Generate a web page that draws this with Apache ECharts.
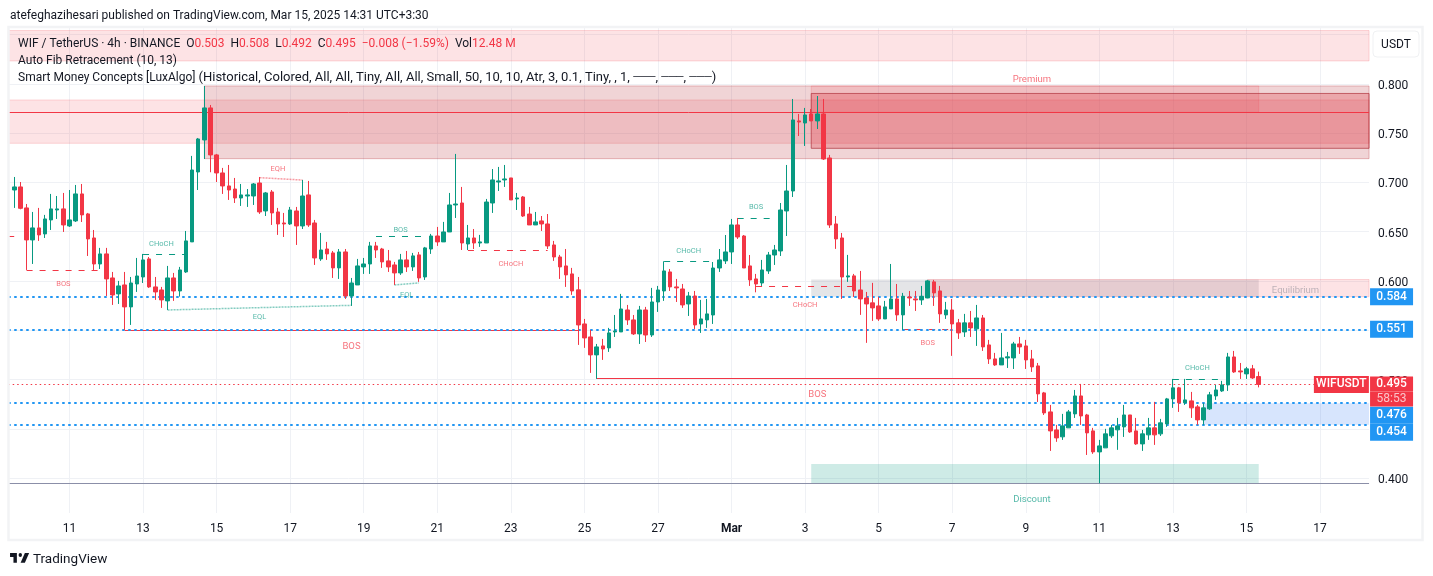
<!DOCTYPE html>
<html><head><meta charset="utf-8">
<style>html,body{margin:0;padding:0;background:#fff}#c{width:1433px;height:576px}</style>
<script src="https://cdn.jsdelivr.net/npm/echarts@6/dist/echarts.min.js"></script>
</head><body><div id="c"></div>
<script>
// open, close, low, high, one row per 4h candle
const candles = [
[.6924,.6955,.6742,.7056],[.6955,.6738,.6728,.7005],[.6742,.6417,.6112,.6782],[.6417,.6539,.6173,.6701],[.6539,.6468,.6407,.6742],
[.6478,.663,.6437,.6671],[.662,.6732,.6518,.6884],[.6721,.6732,.663,.6863],[.6732,.6569,.6498,.6894],[.6559,.662,.6549,.6924],
[.661,.6884,.6599,.6975],[.6884,.6671,.6599,.6985],[.6681,.6427,.6254,.6691],[.6437,.6173,.6112,.6518],[.6173,.6275,.6122,.6336],
[.6275,.6021,.5848,.6336],[.6031,.5858,.5757,.6092],[.5869,.595,.5767,.6001],[.596,.5737,.5503,.6092],[.5737,.598,.5554,.6041],
[.597,.6051,.5889,.6234],[.6041,.6214,.598,.6275],[.6224,.594,.593,.6244],[.594,.5889,.5808,.6041],[.5909,.5808,.5727,.594],
[.5798,.6031,.5706,.6153],[.6031,.5899,.5798,.6082],[.5899,.6112,.5842,.6143],[.6092,.6407,.6082,.6508],[.6397,.7127,.6397,.727],
[.7107,.7442,.6924,.7452],[.7432,.7757,.7239,.798],[.7757,.728,.7104,.7787],[.728,.7097,.7005,.729],[.7097,.6965,.6884,.7148],
[.6965,.6924,.6823,.7178],[.6934,.6843,.6792,.7046],[.6843,.6874,.6762,.6985],[.6863,.6874,.6752,.6934],[.6863,.6985,.6772,.6995],
[.6995,.6701,.6681,.7056],[.6711,.6894,.666,.6904],[.6904,.6691,.6569,.6924],[.6701,.6579,.6468,.6742],[.6589,.6579,.6447,.6691],
[.6579,.6721,.6569,.6752],[.6711,.6559,.6366,.6752],[.6559,.6863,.6528,.7026],[.6874,.6569,.6549,.7016],[.6589,.6234,.6163,.662],
[.6224,.6315,.6204,.6488],[.6325,.6275,.6214,.6397],[.6285,.6133,.6031,.6305],[.6133,.6295,.6021,.6325],[.6295,.5848,.5818,.6325],
[.5848,.598,.5747,.6031],[.596,.6153,.596,.6224],[.6143,.6173,.6072,.6234],[.6173,.6356,.6072,.6397],[.6356,.6315,.6234,.6397],
[.6325,.6194,.6133,.6336],[.6204,.6143,.6092,.6315],[.6163,.6082,.596,.6194],[.6082,.6214,.6062,.6275],[.6214,.6143,.6092,.6305],
[.6143,.6255,.6102,.6285],[.6265,.6031,.5991,.6295],[.6041,.6336,.6011,.6346],[.6325,.6457,.6275,.6478],[.6457,.6397,.6356,.6549],
[.6397,.6498,.6397,.66],[.6498,.6772,.6498,.6894],[.6772,.6782,.664,.729],[.6792,.6386,.6315,.6955],[.6376,.6437,.6315,.6569],
[.6437,.6386,.6325,.6528],[.6386,.6397,.6346,.6468],[.6386,.6802,.6386,.6833],[.6792,.7026,.6691,.7137],[.7005,.7016,.6914,.7158],
[.7026,.7036,.6955,.7178],[.7046,.6823,.6823,.7046],[.6833,.6843,.6721,.6894],[.6853,.666,.665,.6863],[.668,.6569,.6569,.6752],
[.6569,.66,.6569,.6701],[.661,.6579,.6508,.666],[.6579,.6356,.6325,.668],[.6366,.6244,.6204,.6407],[.6244,.6143,.6021,.6265],
[.6153,.6062,.594,.6325],[.6072,.5899,.5859,.6133],[.591,.5554,.5351,.6041],[.5564,.5422,.5321,.5615],[.5432,.525,.5067,.5503],
[.525,.5331,.5006,.5361],[.5341,.531,.5199,.5412],[.5321,.5473,.528,.5524],[.5483,.5493,.5432,.5655],[.5483,.5716,.5483,.5869],
[.5706,.5605,.5554,.5757],[.5605,.5463,.5452,.5655],[.5463,.5706,.5361,.5747],[.5706,.5452,.5381,.5737],[.5452,.5787,.5432,.593],
[.5787,.5909,.5686,.595],[.5899,.6102,.5798,.62],[.6092,.594,.5899,.6122],[.594,.593,.5787,.6021],[.5919,.5757,.5727,.597],
[.5767,.5848,.5645,.5889],[.5848,.5554,.5513,.5899],[.5564,.5615,.5473,.5808],[.5605,.5666,.5524,.5818],[.5655,.6132,.5564,.6193],
[.6132,.6214,.6092,.6325],[.6204,.6295,.6173,.6467],[.6295,.6569,.6173,.663],[.6569,.6447,.6427,.664],[.6457,.6132,.6132,.6467],
[.6153,.6011,.595,.6264],[.6021,.597,.5885,.6072],[.598,.6112,.595,.6214],[.6102,.6264,.6072,.6295],[.6264,.6315,.6163,.6366],
[.6305,.6721,.6254,.6792],[.6711,.6914,.6457,.7178],[.6914,.7635,.6853,.7848],[.7625,.7614,.7472,.7696],[.7604,.7686,.7371,.7757],
[.7696,.7625,.7625,.7746],[.7625,.7696,.7543,.7878],[.7696,.7239,.7229,.7848],[.7249,.6569,.6539,.728],[.6579,.6427,.6326,.666],
[.6437,.6041,.5818,.6488],[.6041,.6052,.5991,.6265],[.6052,.5899,.5838,.6072],[.5909,.5818,.5656,.6102],[.5828,.5767,.5372,.5889],
[.5778,.5727,.5595,.5981],[.5747,.5615,.5595,.5838],[.5615,.5737,.5615,.5798],[.5717,.5818,.5717,.6173],[.5818,.5656,.5595,.597],
[.5656,.5845,.5503,.5879],[.5838,.5828,.5747,.5899],[.5818,.5808,.5696,.5899],[.5808,.5845,.5757,.595],[.5828,.6001,.5825,.6011],
[.5991,.5879,.5747,.6011],[.5899,.5666,.5575,.595],[.5656,.5706,.5615,.5788],[.5706,.5564,.524,.5818],[.5575,.5473,.5412,.5615],
[.5483,.5575,.5432,.5666],[.5575,.5524,.5432,.5696],[.5514,.5625,.5341,.5757],[.5625,.5331,.529,.5655],[.5351,.5209,.5158,.5402],
[.5209,.5148,.5138,.527],[.5148,.5219,.5148,.5473],[.5219,.523,.5117,.528],[.5219,.5361,.5107,.5382],[.5361,.5331,.526,.5432],
[.5341,.5199,.5107,.5402],[.5209,.5128,.5077,.53],[.5138,.4854,.4772,.5168],[.4864,.4661,.464,.4874],[.4671,.4478,.4275,.4742],
[.4488,.4407,.4367,.4539],[.4418,.4529,.4387,.4651],[.4509,.4671,.4509,.4691],[.4651,.4833,.461,.4894],[.4833,.463,.4539,.4955],
[.464,.4458,.4234,.4651],[.4478,.4265,.4245,.4509],[.4265,.4326,.3947,.4387],[.4306,.4448,.4306,.4499],[.4428,.4509,.4407,.4539],
[.4489,.4529,.4286,.461],[.4519,.464,.4417,.4742],[.464,.4468,.4458,.464],[.4478,.4346,.4336,.461],[.4346,.4448,.4275,.4488],
[.4438,.4509,.4387,.461],[.4509,.4438,.4336,.4773],[.4448,.456,.4427,.46],[.4549,.4803,.4519,.4813],[.4803,.4915,.4712,.5006],
[.4915,.4763,.4671,.4925],[.4763,.4793,.4742,.5006],[.4783,.4712,.461,.4874],[.4722,.459,.4539,.4742],[.459,.4712,.4539,.4759],
[.4702,.4844,.4692,.4874],[.4833,.4894,.4793,.4945],[.4884,.4945,.4874,.4986],[.4945,.5229,.4884,.527],[.5229,.5077,.5067,.529],
[.5087,.5077,.5006,.5168],[.5057,.5108,.5006,.5128],[.5108,.5016,.5006,.5148],[.503,.495,.492,.508]];
// one leading empty slot, then the candles, then empty slots to the price scale
const slotCount = 223;
const categories = Array.from({length: slotCount}, (_, k) => k);
const tickSlots = [10,22,34,46,58,70,82,94,106,118,130,142,154,166,178,190,202,214];
const tickLabels = ['11','13','15','17','19','21','23','25','27','Mar','3','5','7','9','11','13','15','17'];
const priceTicks = [0.4,0.45,0.5,0.55,0.6,0.65,0.7,0.75,0.8,0.85];
const fibLevels = [0.584,0.551,0.476,0.454];
const lastPrice = 0.495;
const countdown = '58:53';
const redLine = 0.7713, grayLine = 0.3946;
// kind, slot from, slot to, price top, price bottom
const zones = [
['fib',0,222,.8543,.8234],['fib',0,222,.7838,.7398],['supply',32,222,.798,.7242],
['fib',131,204,.798,.7713],['block',131,222,.7904,.7347],
['gray',131,204,.6015,.584],['fib',150,222,.6015,.584],
['blue',195,222,.476,.454],['teal',131,204,.4142,.3944]];
// slot from, price, slot to, price, style
const structure = [
[3,.6112,16,.6112,'rd'],[0,.6457,2,.6457,'rd'],[19,.5503,93,.5503,'rs'],[22,.6267,29,.6267,'gd'],
[26,.5706,56,.5753,'ge'],[41,.7049,48,.7025,'re'],[60,.6451,68,.6451,'gd'],[75,.6312,88,.6312,'rd'],
[96,.5012,168,.5012,'rs'],[63,.596,67,.598,'ge'],[107,.62,115,.62,'gd'],[119,.6636,125,.6636,'gd'],
[122,.5948,139,.5948,'rd'],[146,.5513,154,.5513,'rd'],[190,.5003,198,.5003,'gd']];
// slot, price, text, colour, size
const notes = [
[9,.598,'BOS','r',7.5],[56,.535,'BOS','r',9.5],[25,.6386,'CHoCH','g',7.5],[41,.5645,'EQL','g',7.5],
[44,.7147,'EQH','r',7.5],[64,.6528,'BOS','g',7.5],[65,.5868,'EQL','g',7.5],[82,.6183,'CHoCH','r',7.5],
[111,.6315,'CHoCH','g',7.5],[122,.6761,'BOS','g',7.5],[130,.5766,'CHoCH','r',7.5],[132,.4863,'BOS','r',9.5],
[150,.5381,'BOS','r',7.5],[194,.5127,'CHoCH','g',7.5],[167,.8061,'Premium','r',9.5],[210,.5919,'Equilibrium','n',9.5],[167,.3797,'Discount','g',9.5]];
const publishedLine = 'atefeghazihesari published on TradingView.com, Mar 15, 2025 14:31 UTC+3:30';
const legendTitle = 'WIF / TetherUS · 4h · BINANCE';
const legendFib = 'Auto Fib Retracement (10, 13)';
const legendSmcName = 'Smart Money Concepts [LuxAlgo]';
const legendSmcArgs = '(Historical, Colored, All, All, Tiny, All, All, Small, 50, 10, 10, Atr, 3, 0.1, Tiny, , 1, {b|───}, {b|───}, {b|───})';

const FONT = 'Roboto, sans-serif';
const UP='#089981', DOWN='#f23645', BLUE='#2196f3', INK='#131722';
const zoneStyle = {
  fib:{color:'rgba(242,54,69,.14)',borderColor:'rgba(242,54,69,.18)',borderWidth:1},
  supply:{color:'rgba(178,40,51,.2)',borderColor:'rgba(178,40,51,.3)',borderWidth:1},
  block:{color:'rgba(224,50,62,.28)',borderColor:'rgba(170,40,50,.65)',borderWidth:1},
  gray:{color:'rgba(120,123,134,.2)'},
  blue:{color:'rgba(33,110,243,.18)'},
  teal:{color:'rgba(8,153,129,.2)'}};
const lineStyles = {
  rd:{color:DOWN,type:[6,7],width:1}, gd:{color:UP,type:[6,7],width:1},
  rs:{color:DOWN,type:'solid',width:1}, ge:{color:'rgba(8,153,129,.5)',type:[2,1],width:1.5},
  re:{color:'rgba(242,54,69,.5)',type:[2,1],width:1.5}};
const noteColor = {r:'rgba(242,54,69,.88)',g:'rgba(8,153,129,.85)',n:'rgba(120,123,134,.6)'};
const tagLabel = (text, w, bg) => ({show:true,position:'end',distance:1,align:'left',
  formatter:'{t|'+text+'}',
  rich:{t:{width:w,height:17,lineHeight:17,align:'center',color:'#fff',backgroundColor:bg,fontFamily:FONT,fontSize:12,fontWeight:500}}});
const tagOffsets = {0.476:12, 0.454:7.5};

const levelLines = fibLevels.map(p => [
  {coord:[0,p],lineStyle:{color:BLUE,type:[2.5,3.5],width:2},label:{...tagLabel(p.toFixed(3),43,BLUE),offset:[0,tagOffsets[p]||0]}},
  {coord:[222,p]}]);
const structLines = structure.map(s => [
  {coord:[s[0],s[1]],lineStyle:lineStyles[s[4]],label:{show:false}},{coord:[s[2],s[3]]}]);
const plainLines = [
  [{coord:[0,redLine],lineStyle:{color:DOWN,type:'solid',width:1},label:{show:false}},{coord:[222,redLine]}],
  [{coord:[0,grayLine],lineStyle:{color:'#8b8fa8',type:'solid',width:1.2},label:{show:false}},{coord:[222,grayLine]}],
  [{coord:[0,lastPrice],lineStyle:{color:DOWN,type:[1.5,3],width:1},label:{...tagLabel('WIFUSDT',55,DOWN),distance:0}},{coord:[213,lastPrice]}]];
const priceTag = [
  [{coord:[221,lastPrice],lineStyle:{color:'rgba(0,0,0,0)',width:1},
    label:{show:true,position:'end',distance:1,align:'left',offset:[0,7],
      formatter:'{a|'+lastPrice.toFixed(3)+'}\n{b|'+countdown+'}',
      rich:{a:{width:43,height:15,lineHeight:15,align:'center',backgroundColor:DOWN,color:'#fff',fontFamily:FONT,fontSize:12,fontWeight:500},
            b:{width:43,height:15,lineHeight:15,align:'center',backgroundColor:DOWN,color:'#fbc3c8',fontFamily:FONT,fontSize:12}}}},
   {coord:[222,lastPrice]}]];

const chart = echarts.init(document.getElementById('c'),null,{renderer:'canvas'});
const T=(x,y,text,extra)=>({type:'text',x,y,z:200,silent:true,style:{text,fill:INK,font:'12px '+FONT,textVerticalAlign:'middle',...extra}});
const r=(s)=>'{r|'+s+'}';
const LX=0.57, LY=0.66;
chart.setOption({
  animation:false, backgroundColor:'#fff',
  grid:{left:8.2,top:28,width:1360.86,height:485,containLabel:false},
  xAxis:{type:'category',data:categories,boundaryGap:false,
    axisLine:{show:false},axisTick:{show:false},
    splitLine:{show:true,lineStyle:{color:'#eff1f5',width:1},interval:(i)=>tickSlots.includes(i)},
    axisLabel:{interval:(i)=>tickSlots.includes(i),margin:10,color:INK,fontFamily:FONT,fontSize:12,
      formatter:(v)=>{const t=tickLabels[tickSlots.indexOf(+v)];return t==='Mar'?'{b|Mar}':t;},
      rich:{b:{fontWeight:'bold',fontFamily:FONT,fontSize:12,color:INK}}}},
  yAxis:{type:'value',position:'right',min:0.36447,max:0.85685,
    axisLine:{show:false},
    axisTick:{show:false,customValues:priceTicks},
    splitLine:{show:true,lineStyle:{color:'#eff1f5',width:1}},
    axisLabel:{customValues:priceTicks.slice(0,9),margin:9,
      formatter:(v)=>'{p|'+(+v).toFixed(3)+'}',
      rich:{p:{color:INK,fontFamily:FONT,fontSize:12,padding:[4,0,0,0]}}}},
  series:[
   {type:'candlestick',data:[null].concat(candles).concat(Array(slotCount-1-candles.length).fill(null)).map(d=>d||['-','-','-','-']),
    barWidth:4,clip:true,
    itemStyle:{color:UP,color0:DOWN,borderColor:UP,borderColor0:DOWN,borderWidth:1},
    markArea:{silent:true,z:1,data:zones.map(z=>[{coord:[z[1],z[3]],itemStyle:zoneStyle[z[0]]},{coord:[z[2],z[4]]}])},
    markLine:{silent:true,z:1,symbol:'none',animation:false,data:structLines.concat(plainLines,levelLines,priceTag)}},
   {type:'scatter',symbolSize:0,silent:true,z:3,data:notes.map(n=>({value:[n[0],n[1]],
      label:{show:true,position:'inside',offset:[0,n[4]>8?2:1],formatter:n[2],color:noteColor[n[3]],fontSize:n[4],fontFamily:FONT}}))}
  ],
  graphic:[
   {type:'rect',z:150,silent:true,shape:{x:8.5,y:27,width:1414,height:513},style:{fill:'none',stroke:'#f2f3f5',lineWidth:2.5}},
   {type:'rect',z:150,silent:true,shape:{x:1373,y:31,width:46,height:26,r:4},style:{fill:'#fff',stroke:'#f0f1f3',lineWidth:1}},
   T(1396,45,'USDT',{textAlign:'center'}),
   T(10,15.5,publishedLine),
   T(18,43.5,legendTitle+'  O'+r('0.503')+'  H'+r('0.508')+'  L'+r('0.492')+'  C'+r('0.495')+'  '+r('−0.008 (−1.59%)')+'  Vol'+r('12.48 M'),
     {rich:{r:{fill:DOWN,font:'12px '+FONT}}}),
   T(18,60.5,legendFib),
   T(18,77.5,legendSmcName+' {a|'+legendSmcArgs.replace(/\{b\|───\}/g,'}{b|───}{a|')+'}',{rich:{a:{fill:INK,font:'13px '+FONT},b:{fill:INK,font:'10.5px '+FONT}}}),
   {type:'polygon',z:200,silent:true,x:8.9,y:549,scaleX:LX,scaleY:LY,shape:{points:[[14,6],[2,6],[2,12],[8,12],[8,21],[14,21]]},style:{fill:INK}},
   {type:'polygon',z:200,silent:true,x:8.9,y:549,scaleX:LX,scaleY:LY,shape:{points:[[28,21],[20.5,21],[28,6],[35.5,6]]},style:{fill:INK}},
   {type:'circle',z:200,silent:true,x:8.9,y:549,scaleX:LX,scaleY:LY,shape:{cx:20,cy:9,r:3},style:{fill:INK}},
   T(33,559.5,'TradingView',{font:'13.5px '+FONT})
  ]
});
</script></body></html>
